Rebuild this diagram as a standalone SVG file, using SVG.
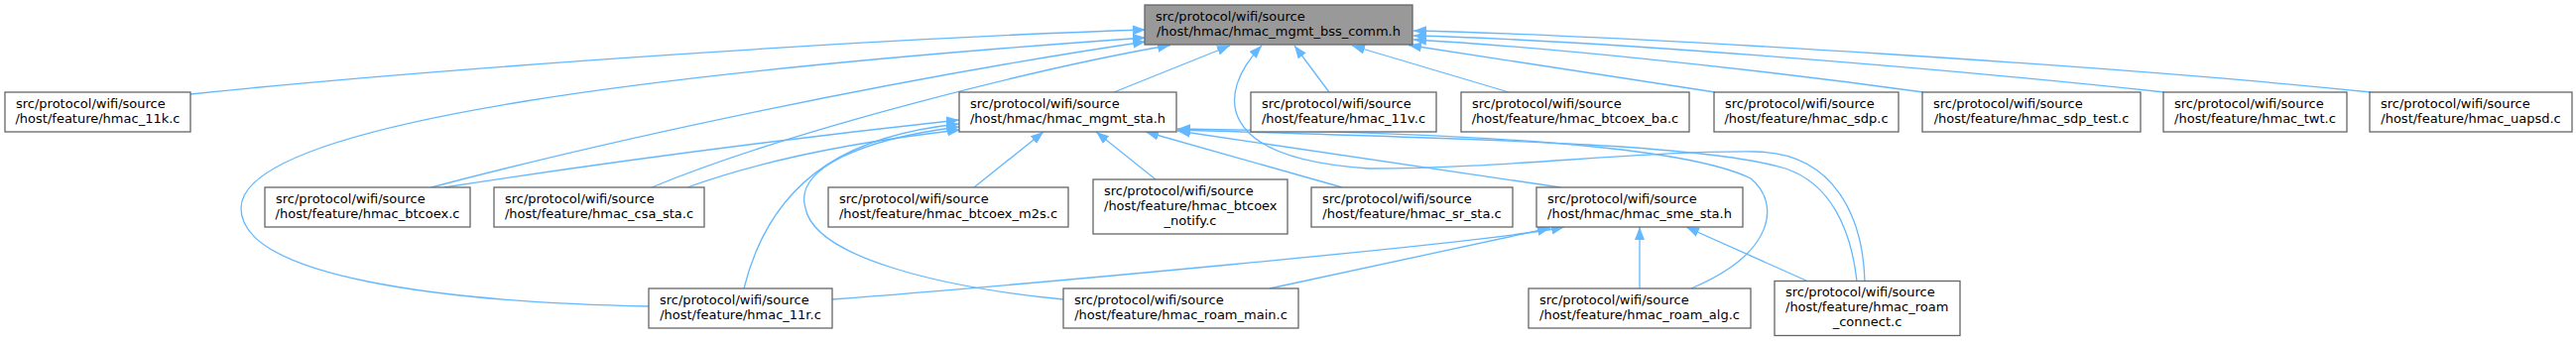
<svg xmlns="http://www.w3.org/2000/svg" width="2597" height="344" viewBox="0 0 2597 344">
<defs>
<marker id="ah" viewBox="0 0 13 10" refX="13" refY="5" markerWidth="13" markerHeight="10" markerUnits="userSpaceOnUse" orient="auto-start-reverse">
<path d="M0,0 L13,5 L0,10 z" fill="#63b8ff"/>
</marker>
<style>
.e{fill:none;stroke:#63b8ff;stroke-width:1.3;marker-start:url(#ah)}
.b{fill:#ffffff;stroke:#666666;stroke-width:1.3}
.g{fill:#999999;stroke:#666666;stroke-width:1.3}
text{font-family:"DejaVu Sans","Liberation Sans",sans-serif;font-size:13px;fill:#000000}
.m{text-anchor:middle}
</style>
</defs>
<rect width="2597" height="344" fill="#ffffff"/>
<g id="connectors">
<path class="e" d="M1155,30 C900,38 450,68 192,95"/>
<path class="e" d="M1155,38 C700,70 243,120 243,210 C243,280 450,305 654,309"/>
<path class="e" d="M1155,42 C900,80 620,140 435,189"/>
<path class="e" d="M1180,45.5 C1050,68 800,130 657,189"/>
<path class="e" d="M1240,46 L1123,93"/>
<path class="e" d="M1272,46 C1225,95 1225,160 1380,170 C1520,170 1650,152 1770,153 C1850,154 1878,220 1880,283.5"/>
<path class="e" d="M1305,46 L1340,93"/>
<path class="e" d="M1363,46 L1521,93"/>
<path class="e" d="M1420,45.5 L1729,93"/>
<path class="e" d="M1425,40 C1550,47 1750,67 1939,93"/>
<path class="e" d="M1425,36 C1600,40 1950,68 2182,93"/>
<path class="e" d="M1425,31 C1650,36 2150,68 2390,93"/>
<path class="e" d="M967,121 Q700,150 448,189"/>
<path class="e" d="M968,131 Q800,150 693,189"/>
<path class="e" d="M967,125 C870,135 780,170 750,291"/>
<path class="e" d="M967,128 C870,140 800,170 812,210 C822,260 950,290 1072,302"/>
<path class="e" d="M1052,133 L982,189"/>
<path class="e" d="M1105,133 L1165,181"/>
<path class="e" d="M1155,133 L1353,189"/>
<path class="e" d="M1187,132 L1573,189"/>
<path class="e" d="M1187,130 C1500,134 1700,148 1765,180 C1795,205 1790,255 1705,291"/>
<path class="e" d="M1187,131 C1480,140 1720,145 1800,170 C1845,185 1866,230 1872,283.5"/>
<path class="e" d="M1577,229 C1500,245 1000,290 839,302"/>
<path class="e" d="M1563,230 L1280,291"/>
<path class="e" d="M1653,229 L1653,291"/>
<path class="e" d="M1700,229 L1822,283.5"/>
</g>
<g id="n0"><rect class="g" x="1154" y="5" width="270" height="40"/><text x="1165" y="20.5">src/protocol/wifi/source</text><text class="m" x="1289" y="35.5">/host/hmac/hmac_mgmt_bss_comm.h</text></g>
<g id="n1"><rect class="b" x="5" y="93" width="187" height="40"/><text x="16" y="108.5">src/protocol/wifi/source</text><text class="m" x="98.5" y="123.5">/host/feature/hmac_11k.c</text></g>
<g id="n2"><rect class="b" x="967" y="93" width="219" height="40"/><text x="978" y="108.5">src/protocol/wifi/source</text><text class="m" x="1076.5" y="123.5">/host/hmac/hmac_mgmt_sta.h</text></g>
<g id="n3"><rect class="b" x="1261" y="93" width="187" height="40"/><text x="1272" y="108.5">src/protocol/wifi/source</text><text class="m" x="1354.5" y="123.5">/host/feature/hmac_11v.c</text></g>
<g id="n4"><rect class="b" x="1473" y="93" width="230" height="40"/><text x="1484" y="108.5">src/protocol/wifi/source</text><text class="m" x="1588" y="123.5">/host/feature/hmac_btcoex_ba.c</text></g>
<g id="n5"><rect class="b" x="1728" y="93" width="186" height="40"/><text x="1739" y="108.5">src/protocol/wifi/source</text><text class="m" x="1821" y="123.5">/host/feature/hmac_sdp.c</text></g>
<g id="n6"><rect class="b" x="1938" y="93" width="220" height="40"/><text x="1949" y="108.5">src/protocol/wifi/source</text><text class="m" x="2048" y="123.5">/host/feature/hmac_sdp_test.c</text></g>
<g id="n7"><rect class="b" x="2181" y="93" width="185" height="40"/><text x="2192" y="108.5">src/protocol/wifi/source</text><text class="m" x="2273.5" y="123.5">/host/feature/hmac_twt.c</text></g>
<g id="n8"><rect class="b" x="2389" y="93" width="204" height="40"/><text x="2400" y="108.5">src/protocol/wifi/source</text><text class="m" x="2491" y="123.5">/host/feature/hmac_uapsd.c</text></g>
<g id="n9"><rect class="b" x="267" y="189" width="207" height="40"/><text x="278" y="204.5">src/protocol/wifi/source</text><text class="m" x="370.5" y="219.5">/host/feature/hmac_btcoex.c</text></g>
<g id="n10"><rect class="b" x="498" y="189" width="212" height="40"/><text x="509" y="204.5">src/protocol/wifi/source</text><text class="m" x="604" y="219.5">/host/feature/hmac_csa_sta.c</text></g>
<g id="n11"><rect class="b" x="835" y="189" width="242" height="40"/><text x="846" y="204.5">src/protocol/wifi/source</text><text class="m" x="956" y="219.5">/host/feature/hmac_btcoex_m2s.c</text></g>
<g id="n12"><rect class="b" x="1102" y="181" width="196" height="55"/><text x="1113" y="196.5">src/protocol/wifi/source</text><text x="1113" y="211.5">/host/feature/hmac_btcoex</text><text class="m" x="1200" y="226.5">_notify.c</text></g>
<g id="n13"><rect class="b" x="1322" y="189" width="203" height="40"/><text x="1333" y="204.5">src/protocol/wifi/source</text><text class="m" x="1423.5" y="219.5">/host/feature/hmac_sr_sta.c</text></g>
<g id="n14"><rect class="b" x="1549" y="189" width="208" height="40"/><text x="1560" y="204.5">src/protocol/wifi/source</text><text class="m" x="1653" y="219.5">/host/hmac/hmac_sme_sta.h</text></g>
<g id="n15"><rect class="b" x="654" y="291" width="185" height="40"/><text x="665" y="306.5">src/protocol/wifi/source</text><text class="m" x="746.5" y="321.5">/host/feature/hmac_11r.c</text></g>
<g id="n16"><rect class="b" x="1072" y="291" width="237" height="40"/><text x="1083" y="306.5">src/protocol/wifi/source</text><text class="m" x="1190.5" y="321.5">/host/feature/hmac_roam_main.c</text></g>
<g id="n17"><rect class="b" x="1541" y="291" width="224" height="40"/><text x="1552" y="306.5">src/protocol/wifi/source</text><text class="m" x="1653" y="321.5">/host/feature/hmac_roam_alg.c</text></g>
<g id="n18"><rect class="b" x="1789" y="283.5" width="187" height="55"/><text x="1800" y="299">src/protocol/wifi/source</text><text x="1800" y="314">/host/feature/hmac_roam</text><text class="m" x="1882.5" y="329">_connect.c</text></g>
</svg>
